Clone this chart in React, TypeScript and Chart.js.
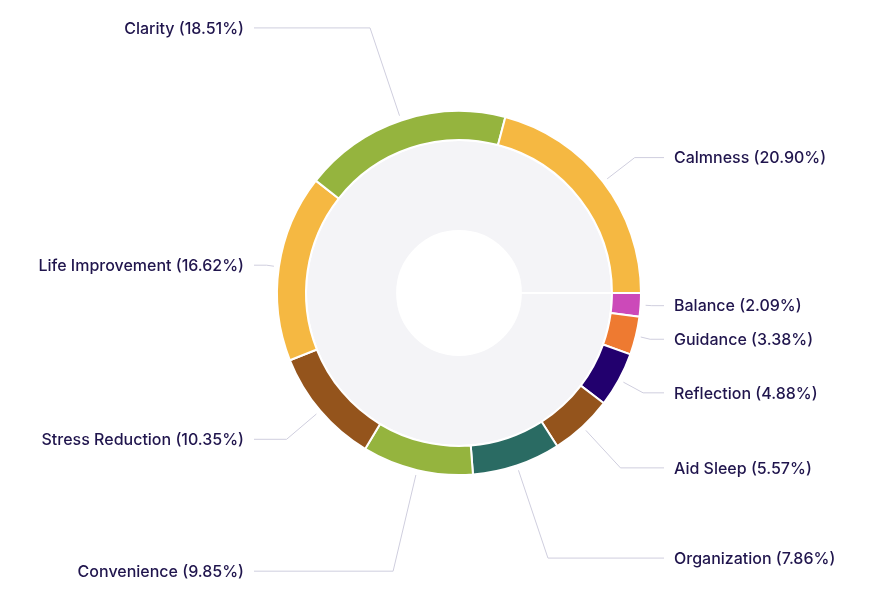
import React, { useEffect, useRef } from "react";
import { Chart, registerables } from "chart.js";

Chart.register(...registerables);

// Slices listed clockwise starting at 3 o'clock
const categories = [
  "Balance",
  "Guidance",
  "Reflection",
  "Aid Sleep",
  "Organization",
  "Convenience",
  "Stress Reduction",
  "Life Improvement",
  "Clarity",
  "Calmness",
];
const shares = [2.09, 3.38, 4.88, 5.57, 7.86, 9.85, 10.35, 16.62, 18.51, 20.9];
const sliceColors = [
  "#cc49b9",
  "#ee7a31",
  "#22006e",
  "#94541c",
  "#2a6b63",
  "#95b43e",
  "#94541c",
  "#f5b842",
  "#95b43e",
  "#f5b842",
];
const backdropValue = [100];

const TEXT_COLOR = "#20154d";
const LINE_COLOR = "#cfcede";

const outerLabels = {
  id: "outerLabels",
  afterDatasetsDraw(chart: any) {
    const meta = chart.getDatasetMeta(0);
    const ctx = chart.ctx as CanvasRenderingContext2D;
    ctx.save();
    ctx.font = "500 16px Inter";
    ctx.textBaseline = "middle";
    ctx.lineWidth = 1;
    ctx.strokeStyle = LINE_COLOR;
    meta.data.forEach((arc: any, i: number) => {
      const { x, y, startAngle, endAngle, outerRadius } = arc.getProps(
        ["x", "y", "startAngle", "endAngle", "outerRadius"],
        true
      );
      const mid = (startAngle + endAngle) / 2;
      const c = Math.cos(mid);
      const s = Math.sin(mid);
      const s2 = s * s;
      const r0 = outerRadius + 5;
      const r1 = outerRadius + 11 + 64 * s2 + 36 * s2 * s2;
      const right = c >= 0;
      const x0 = x + r0 * c;
      const y0 = y + r0 * s;
      const x1 = x + r1 * c;
      const y1 = y + r1 * s;
      const colX = right ? x + outerRadius + 23 : x - outerRadius - 23;
      ctx.beginPath();
      ctx.moveTo(x0, y0);
      ctx.lineTo(x1, y1);
      ctx.lineTo(colX, y1);
      ctx.stroke();
      const text = `${categories[i]} (${shares[i].toFixed(2)}%)`;
      ctx.fillStyle = TEXT_COLOR;
      ctx.textAlign = right ? "left" : "right";
      ctx.fillText(text, right ? colX + 10 : colX - 10, y1 + 1);
    });
    ctx.restore();
  },
};

export default function App() {
  const canvasRef = useRef<HTMLCanvasElement | null>(null);

  useEffect(() => {
    if (!canvasRef.current) return;
    const chart = new Chart(canvasRef.current, {
      type: "doughnut",
      data: {
        labels: categories,
        datasets: [
          {
            data: shares,
            backgroundColor: sliceColors,
            borderColor: "#ffffff",
            borderWidth: 2,
            weight: 29,
          },
          {
            data: backdropValue,
            backgroundColor: "#f4f4f7",
            borderColor: "#ffffff",
            borderWidth: 2,
            weight: 91,
          },
        ],
      },
      options: {
        animation: false,
        responsive: true,
        maintainAspectRatio: false,
        events: [],
        rotation: 90,
        radius: 182,
        cutout: "34%",
        layout: { padding: { left: 100, right: 62, top: 103, bottom: 111 } },
        plugins: {
          legend: { display: false },
          tooltip: { enabled: false },
        },
      },
      plugins: [outerLabels],
    });
    return () => chart.destroy();
  }, []);

  return (
    <div style={{ position: "relative", width: 864, height: 578 }}>
      <canvas ref={canvasRef} />
    </div>
  );
}
